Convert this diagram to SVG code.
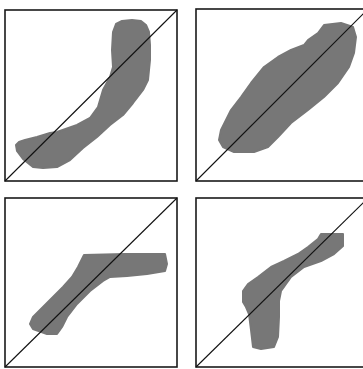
<svg xmlns="http://www.w3.org/2000/svg" width="363" height="369" viewBox="0 0 363 369">
<style>
.frame{fill:none;stroke:#1a1a1a;stroke-width:1.6}
.diag{stroke:#111;stroke-width:1.1;fill:none}
.blob{fill:#777777;stroke:#777777;stroke-width:2;stroke-linejoin:round}
</style>
<rect width="363" height="369" fill="#ffffff"/>
<g id="panel1">
<rect class="frame" x="5" y="10" width="172" height="171"/>
<polygon class="blob" points="116,24 122,21 132,20 141,21 146,25 149,32 150,45 150,60 148,80 143,90 133,103 123,115 110,125 97,137 83,148 70,160 57,167 43,168 33,167 23,159 17,151 16,145 19,142 25,140 37,137 50,133 57,132 77,125 90,118 98,107 103,90 110,77 113,67 112,50 113,32"/>
<line class="diag" x1="5" y1="181" x2="177" y2="10"/>
</g>
<g id="panel2">
<rect class="frame" x="196" y="9" width="172" height="172"/>
<polygon class="blob" points="324,25 341,23 353,27 356,37 354,53 349,67 338,83 324,97 308,110 291,123 278,137 268,147 254,152 234,152 223,147 219,140 221,130 231,110 241,97 251,83 264,67 278,57 291,50 304,45 308,40 318,33"/>
<line class="diag" x1="196" y1="181" x2="368" y2="9"/>
</g>
<g id="panel3">
<rect class="frame" x="5" y="198" width="172" height="169"/>
<polygon class="blob" points="84,255 125,254 165,254 167,264 165,271 147,274 127,276 110,277 103,281 90,291 77,304 67,317 62,327 57,334 47,334 33,329 30,324 33,317 43,307 53,297 63,287 72,277 78,267"/>
<line class="diag" x1="5" y1="367" x2="177" y2="198"/>
</g>
<g id="panel4">
<rect class="frame" x="196" y="198" width="172" height="169"/>
<polygon class="blob" points="321,234 343,234 343,246 334,254 321,261 304,267 291,277 281,291 279,301 279,317 278,337 274,347 261,349 253,347 251,330 249,314 246,307 243,302 243,291 248,284 258,277 271,267 284,261 298,254 308,247 318,239"/>
<line class="diag" x1="196" y1="367" x2="368" y2="198"/>
</g>
</svg>
